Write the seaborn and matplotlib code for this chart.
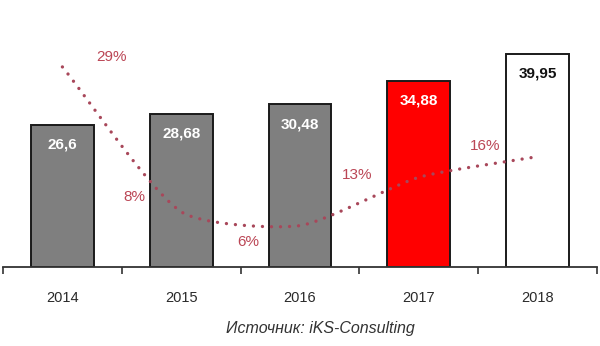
import numpy as np
import pandas as pd
import matplotlib
matplotlib.use("Agg")
import matplotlib.pyplot as plt
import seaborn as sns

years = ["2014", "2015", "2016", "2017", "2018"]
volumes = [26.6, 28.68, 30.48, 34.88, 39.95]
growth = [29, 8, 6, 13, 16]
bar_colors = ["#7f7f7f", "#7f7f7f", "#7f7f7f", "#ff0000", "#ffffff"]
value_text_colors = ["white", "white", "white", "white", "#111111"]
# label offsets (pixels) of growth labels relative to their points
growth_offsets = [(49, 10), (-47, 15), (-52, -16), (-62, 2), (-52, 11)]
source = "Источник: iKS-Consulting"

sns.set_theme(style="white")
plt.rcParams["font.family"] = ["Liberation Sans", "DejaVu Sans"]

fig = plt.figure(figsize=(6.0, 3.46), dpi=100)
ax = fig.add_axes([3 / 600, 1 - 267 / 346, 594 / 600, 267 / 346])

df = pd.DataFrame({"year": years, "volume": volumes})
sns.barplot(data=df, x="year", y="volume", hue="year", palette=bar_colors,
            legend=False, width=0.53, edgecolor="#1a1a1a", linewidth=1.4,
            saturation=1, ax=ax)

ax.set_xlim(-0.5, 4.5)
ax.set_ylim(0, 50)
for s in ["top", "left", "right"]:
    ax.spines[s].set_visible(False)
ax.spines["bottom"].set_color("#333333")
ax.spines["bottom"].set_linewidth(1.3)
ax.set_yticks([])
ax.set_xlabel("")
ax.set_ylabel("")
ax.set_xticks(range(len(years)))
ax.set_xticklabels(years, fontsize=10.5, color="#2a2a2a")
ax.set_xticks(np.arange(-0.5, len(years)), minor=True)
ax.tick_params(axis="x", which="major", length=0, pad=17)
ax.tick_params(axis="x", which="minor", length=5, width=1.2, color="#333333",
               direction="out", bottom=True)

for i, v in enumerate(volumes):
    ax.annotate(str(v).replace(".", ","), (i, v), xytext=(0, -20),
                textcoords="offset pixels", ha="center", va="center",
                fontsize=11, fontweight="bold", color=value_text_colors[i])

ax2 = ax.twinx()
Y2MAX = 38.7
ax2.set_ylim(0, Y2MAX)
ax2.set_yticks([])
for s in ax2.spines.values():
    s.set_visible(False)

# smoothed (Excel-like Bezier) rendering of the growth line through the data points,
# computed in screen-proportional units so the shape is independent of scales
SX = 594 / 5.0          # px per category
SY = 267 / Y2MAX        # px per percent
P = np.column_stack([np.arange(len(growth)) * SX, np.array(growth, float) * SY])
n = len(P)
handle = 0.2
dirs = []
for i in range(n):
    a = P[max(i - 1, 0)]
    b = P[min(i + 1, n - 1)]
    d = b - a
    dirs.append(d / np.linalg.norm(d))
t = np.linspace(0, 1, 60)[:, None]
curve = []
for i in range(n - 1):
    L = np.linalg.norm(P[i + 1] - P[i])
    c1 = P[i] + dirs[i] * L * handle
    c2 = P[i + 1] - dirs[i + 1] * L * handle
    seg = ((1 - t) ** 3) * P[i] + 3 * ((1 - t) ** 2) * t * c1 \
        + 3 * (1 - t) * t ** 2 * c2 + t ** 3 * P[i + 1]
    curve.append(seg if i == 0 else seg[1:])
curve = np.vstack(curve)
ax2.plot(curve[:, 0] / SX, curve[:, 1] / SY, color="#a8475a", linewidth=2.4,
         linestyle=(0, (0.01, 2.7)), dash_capstyle="round")

for i, v in enumerate(growth):
    dx, dy = growth_offsets[i]
    ax2.annotate(f"{v}%", (i, v), xytext=(dx, dy), textcoords="offset pixels",
                 ha="center", va="center", fontsize=11, color="#bb4655")

fig.text(320 / 600, 1 - 329 / 346, source, ha="center", va="center",
         fontsize=11.5, style="italic", color="#333333")

fig.savefig("out.png", dpi=100)
